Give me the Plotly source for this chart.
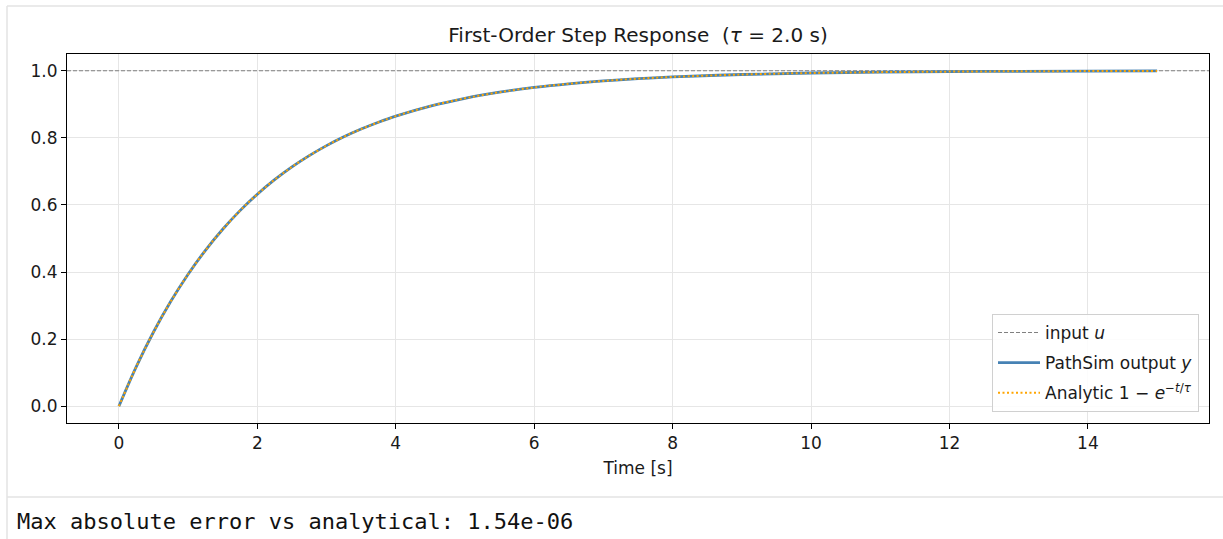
import plotly.graph_objects as go

# ---- data ----
time_s = [0, 0.25, 0.5, 0.75, 1.0, 1.25, 1.5, 1.75, 2.0, 2.25, 2.5, 2.75, 3.0, 3.25,
          3.5, 3.75, 4.0, 4.5, 5.0, 5.5, 6.0, 6.5, 7.0, 7.5, 8.0, 9.0, 10.0, 11.0,
          12.0, 13.0, 14.0, 15.0]
pathsim_y = [0.0, 0.1175, 0.2212, 0.3127, 0.3935, 0.4647, 0.5276, 0.5831, 0.6321,
             0.6753, 0.7135, 0.7471, 0.7769, 0.8031, 0.8262, 0.8466, 0.8647, 0.8946,
             0.9179, 0.9361, 0.9502, 0.9612, 0.9698, 0.9765, 0.9817, 0.9889, 0.9933,
             0.9959, 0.9975, 0.9985, 0.9991, 0.9994]
analytic_y = [0.0, 0.1175, 0.2212, 0.3127, 0.3935, 0.4647, 0.5276, 0.5831, 0.6321,
              0.6753, 0.7135, 0.7471, 0.7769, 0.8031, 0.8262, 0.8466, 0.8647, 0.8946,
              0.9179, 0.9361, 0.9502, 0.9612, 0.9698, 0.9765, 0.9817, 0.9889, 0.9933,
              0.9959, 0.9975, 0.9985, 0.9991, 0.9994]
input_level = 1.0
x_range = [-0.75, 15.75]
y_range = [-0.05, 1.05]
x_ticks = [0, 2, 4, 6, 8, 10, 12, 14]
y_ticks = [0.0, 0.2, 0.4, 0.6, 0.8, 1.0]
y_ticklabels = ["0.0", "0.2", "0.4", "0.6", "0.8", "1.0"]
max_err_text = "Max absolute error vs analytical: 1.54e-06"

W, H = 1223, 539
L, R, T, B = 67, 1209, 54, 423  # plot area in pixels
pw, ph = R - L, B - T


def px(x):
    return (x - L) / pw


def py(y):
    return (B - y) / ph


FONT = "DejaVu Sans, Liberation Sans, sans-serif"
TXT = "#1a1a1a"

fig = go.Figure()
fig.add_trace(go.Scatter(
    x=x_range, y=[input_level, input_level], mode="lines",
    name="input <i>u</i>", legendgroup="a",
    line=dict(color="#808080", width=1.1, dash="4px,2px")))
fig.add_trace(go.Scatter(
    x=time_s, y=pathsim_y, mode="lines", line_shape="spline",
    name="PathSim output <i>y</i>", legendgroup="b",
    line=dict(color="#4682b4", width=2.8)))
fig.add_trace(go.Scatter(
    x=time_s, y=analytic_y, mode="lines", line_shape="spline",
    name="Analytic 1 \u2212 <i>e</i><sup>\u2212<i>t</i>/<i>\u03c4</i></sup>", legendgroup="c",
    line=dict(color="#ffa500", width=2, dash="2px,2.5px")))

axis_common = dict(
    showline=True, linecolor="#000000", linewidth=1.1, mirror=True,
    ticks="outside", ticklen=5, tickwidth=1.1, tickcolor="#000000",
    showgrid=True, gridcolor="#e6e6e6", gridwidth=1, zeroline=False,
    tickfont=dict(family=FONT, size=17, color=TXT),
)
fig.update_xaxes(range=x_range, tickvals=x_ticks,
                 title=dict(text="Time [s]", font=dict(family=FONT, size=17, color=TXT), standoff=9),
                 **axis_common)
fig.update_yaxes(range=y_range, tickvals=y_ticks, ticktext=y_ticklabels, **axis_common)

# notebook chrome
chrome = "#e3e3e3"
shapes = [
    dict(type="line", xref="paper", yref="paper", x0=px(7), x1=px(7), y0=py(6), y1=py(539),
         line=dict(color=chrome, width=1.5)),
    dict(type="line", xref="paper", yref="paper", x0=px(7), x1=px(1223), y0=py(6), y1=py(6),
         line=dict(color=chrome, width=1.5)),
    dict(type="line", xref="paper", yref="paper", x0=px(7), x1=px(1223), y0=py(497), y1=py(497),
         line=dict(color=chrome, width=1.5)),
]

fig.update_layout(
    width=W, height=H,
    margin=dict(l=L, r=W - R, t=T, b=H - B, autoexpand=False),
    paper_bgcolor="white", plot_bgcolor="white",
    font=dict(family=FONT, size=17, color=TXT),
    title=dict(text="First-Order Step Response \u00a0(<i>\u03c4</i> = 2.0 s)",
               xref="paper", x=0.5, xanchor="center",
               yref="container", y=1 - 35 / H, yanchor="middle",
               font=dict(family=FONT, size=20, color=TXT)),
    legend=dict(x=px(1199), xanchor="right", y=py(412), yanchor="bottom",
                bgcolor="rgba(255,255,255,0.85)", bordercolor="#d0d0d0", borderwidth=1,
                font=dict(family=FONT, size=17, color=TXT), traceorder="grouped",
                tracegroupgap=5, itemwidth=42),
    shapes=shapes,
    annotations=[dict(text=max_err_text, xref="paper", yref="paper",
                      x=px(15), xanchor="left", y=py(521), yanchor="middle",
                      showarrow=False,
                      font=dict(family="DejaVu Sans Mono, monospace", size=22, color="#111111"))],
)

fig.write_html("out.html")
